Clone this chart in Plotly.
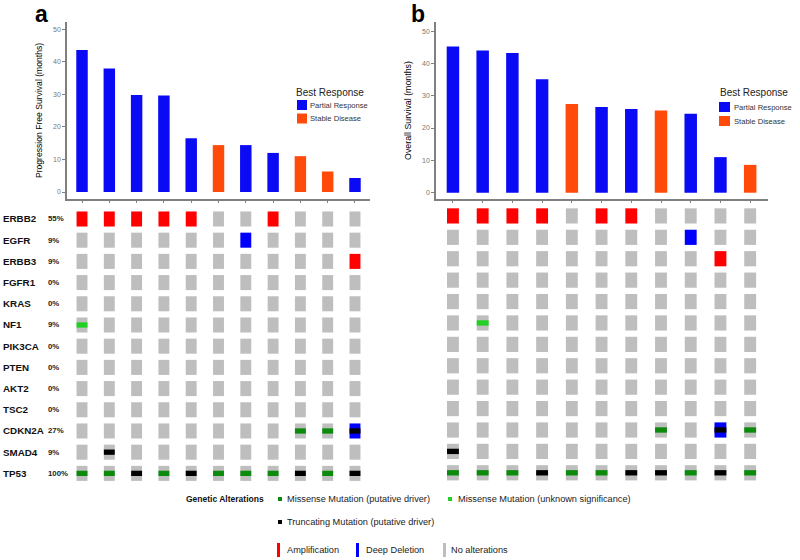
import plotly.graph_objects as go

# ---------------- data ----------------
patients = list(range(11))
pfs_values = [43.6, 37.9, 29.8, 29.6, 16.5, 14.4, 14.4, 12.0, 11.0, 6.3, 4.3]
pfs_response = ["PR", "PR", "PR", "PR", "PR", "SD", "PR", "PR", "SD", "SD", "PR"]
os_values = [45.2, 44.0, 43.2, 35.1, 27.4, 26.5, 25.9, 25.4, 24.4, 11.0, 8.6]
os_response = ["PR", "PR", "PR", "PR", "SD", "PR", "PR", "SD", "PR", "PR", "SD"]

genes = ["ERBB2", "EGFR", "ERBB3", "FGFR1", "KRAS", "NF1", "PIK3CA", "PTEN",
         "AKT2", "TSC2", "CDKN2A", "SMAD4", "TP53"]
gene_pct = ["55%", "9%", "9%", "0%", "0%", "9%", "0%", "0%", "0%", "0%", "27%", "9%", "100%"]

# codes: . none, A amplification, D deep deletion, M missense (driver),
# U missense (unknown), T truncating, X deep deletion + truncating
pfs_oncoprint = [
    "AAAAA..A...",
    "......D....",
    "..........A",
    "...........",
    "...........",
    "U..........",
    "...........",
    "...........",
    "...........",
    "...........",
    "........MMX",
    ".T.........",
    "MMTMTMMMTMT",
]
os_oncoprint = [
    "AAAA.AA....",
    "........D..",
    ".........A.",
    "...........",
    "...........",
    ".U.........",
    "...........",
    "...........",
    "...........",
    "...........",
    ".......M.XM",
    "T..........",
    "MMMTMMTTMTM",
]

# ---------------- styles ----------------
W, H = 800, 560
FONT = "Liberation Sans, Arial, sans-serif"
BLUE = "#0A0AF5"
ORANGE = "#FF4A0A"
RED = "#FF0000"
DEL = "#0000FF"
GRAY = "#BEBEBE"
DGREEN = "#0B8A0B"
LGREEN = "#22D022"
BLACK = "#000000"
AXC = "#808080"


def px(x):
    return x / W


def py(y):
    return 1 - y / H


fig = go.Figure()

# ---- survival bars ----
def add_bars(values, resp, xa, ya):
    for code, col in (("PR", BLUE), ("SD", ORANGE)):
        xs = [p for p, r in zip(patients, resp) if r == code]
        ys = [v for v, r in zip(values, resp) if r == code]
        fig.add_trace(go.Bar(x=xs, y=ys, width=0.42, marker_color=col,
                             marker_line_width=0, xaxis=xa, yaxis=ya,
                             showlegend=False))


add_bars(pfs_values, pfs_response, "x", "y")
add_bars(os_values, os_response, "x2", "y2")

# ---- oncoprint ----
CELL_H = 0.71
MUT_H = 0.25


def add_onco(grid, xa, ya):
    groups = {}
    muts = {}
    for r, row in enumerate(grid):
        for c, ch in enumerate(row):
            bg = RED if ch == "A" else DEL if ch in "DX" else GRAY
            groups.setdefault(bg, []).append((c, r))
            if ch in "MUTX":
                mc = DGREEN if ch == "M" else LGREEN if ch == "U" else BLACK
                muts.setdefault(mc, []).append((c, r))
    for col, pts in groups.items():
        fig.add_trace(go.Bar(x=[p[0] for p in pts], y=[CELL_H] * len(pts),
                             base=[p[1] - CELL_H / 2 for p in pts], width=0.4,
                             marker_color=col, marker_line_width=0,
                             xaxis=xa, yaxis=ya, showlegend=False))
    for col, pts in muts.items():
        fig.add_trace(go.Bar(x=[p[0] for p in pts], y=[MUT_H] * len(pts),
                             base=[p[1] - MUT_H / 2 for p in pts], width=0.4,
                             marker_color=col, marker_line_width=0,
                             xaxis=xa, yaxis=ya, showlegend=False))


add_onco(pfs_oncoprint, "x3", "y3")
add_onco(os_oncoprint, "x4", "y4")

# ---------------- axes ----------------
bar_y_dom = [py(199), py(22)]
onco_y_dom = [py(488), py(205)]
xa_dom = [px(67), px(370)]
xb_dom = [px(436), px(768)]
xa_rng = [-0.55, 10.55]
xb_rng = [-0.57, 10.6]

common_x = dict(showgrid=False, zeroline=False, showline=True, linecolor=AXC,
                linewidth=1.5, ticks="outside", ticklen=2, tickcolor=AXC,
                tickvals=patients, showticklabels=False)
common_y = dict(showgrid=False, zeroline=False, showline=True, linecolor=AXC,
                linewidth=1.5, ticks="outside", ticklen=3, tickcolor=AXC,
                tickvals=[0, 10, 20, 30, 40, 50],
                tickfont=dict(size=7, color="#777777", family=FONT))
hidden = dict(showgrid=False, zeroline=False, showline=False,
              showticklabels=False, ticks="")

fig.update_layout(
    width=W, height=H, margin=dict(l=0, r=0, t=0, b=0),
    paper_bgcolor="white", plot_bgcolor="white", barmode="overlay",
    font=dict(family=FONT),
    xaxis=dict(domain=xa_dom, range=xa_rng, anchor="y", **common_x),
    yaxis=dict(domain=bar_y_dom, range=[-2.15, 52.2], anchor="x",
               title=dict(text="Progression Free Survival (months)", standoff=9,
                          font=dict(size=8.6, color="#000000")),
               **common_y),
    xaxis2=dict(domain=xb_dom, range=xb_rng, anchor="y2", **common_x),
    yaxis2=dict(domain=bar_y_dom, range=[-1.95, 52.8], anchor="x2",
                title=dict(text="Overall Survival (months)", standoff=9,
                           font=dict(size=8.8, color="#000000")),
                **common_y),
    xaxis3=dict(domain=xa_dom, range=xa_rng, anchor="y3", **hidden),
    yaxis3=dict(domain=onco_y_dom, range=[12.69, -0.66], anchor="x3", **hidden),
    xaxis4=dict(domain=xb_dom, range=xb_rng, anchor="y4", **hidden),
    yaxis4=dict(domain=onco_y_dom, range=[12.71, -0.51], anchor="x4", **hidden),
)

ann = []
shapes = []

# panel letters
ann.append(dict(text="<b>a</b>", x=px(33), y=py(14), xref="paper", yref="paper",
                xanchor="left", yanchor="middle", showarrow=False,
                font=dict(size=23, color="black")))
ann.append(dict(text="<b>b</b>", x=px(409), y=py(14), xref="paper", yref="paper",
                xanchor="left", yanchor="middle", showarrow=False,
                font=dict(size=23, color="black")))

# gene labels
for i, (g, p) in enumerate(zip(genes, gene_pct)):
    ann.append(dict(text=f"<b>{g}</b>", x=px(1), y=i, xref="paper", yref="y3",
                    xanchor="left", yanchor="middle", showarrow=False,
                    font=dict(size=9.8, color="#111111")))
    ann.append(dict(text=f"<b>{p}</b>", x=px(46), y=i, xref="paper", yref="y3",
                    xanchor="left", yanchor="middle", showarrow=False,
                    font=dict(size=7.8, color="#222222")))


def rect(x0, y0, x1, y1, col):
    shapes.append(dict(type="rect", xref="paper", yref="paper", x0=px(x0),
                       x1=px(x1), y0=py(y1), y1=py(y0), fillcolor=col,
                       line=dict(width=0)))


def text(t, x, y, size, color="#222222", bold=False):
    ann.append(dict(text=f"<b>{t}</b>" if bold else t, x=px(x), y=py(y),
                    xref="paper", yref="paper", xanchor="left", yanchor="middle",
                    showarrow=False, font=dict(size=size, color=color)))


# Best Response legends
for (tx, sx0, sx1, lx, ty, y1, y2) in ((294, 297, 307, 308, 93, 105, 118.5),
                                        (718, 719, 730, 732, 93, 107, 121)):
    text("Best Response", tx, ty, 10, "#222222")
    rect(sx0, y1 - 5, sx1, y1 + 5, BLUE)
    text("Partial Response", lx, y1, 7.6, "#333333")
    rect(sx0, y2 - 5, sx1, y2 + 5, ORANGE)
    text("Stable Disease", lx, y2, 7.6, "#333333")

# Genetic alterations legend
text("Genetic Alterations", 184, 499, 8.5, "#111111", bold=True)
rect(278, 497, 282, 501, DGREEN)
text("Missense Mutation (putative driver)", 285, 499, 9.2, "#222222")
rect(448, 497, 452, 501, LGREEN)
text("Missense Mutation (unknown significance)", 456, 499, 9.2, "#222222")
rect(278, 520, 282, 524, BLACK)
text("Truncating Mutation (putative driver)", 285, 522, 9.2, "#222222")
rect(277, 543, 280, 557, RED)
text("Amplification", 285, 550, 9.2, "#222222")
rect(356, 543, 359, 557, DEL)
text("Deep Deletion", 364, 550, 9.2, "#222222")
rect(443, 543, 446, 557, GRAY)
text("No alterations", 449, 550, 9.2, "#222222")

fig.update_layout(annotations=ann, shapes=shapes)
fig.write_html("out.html", config={"displayModeBar": False},
               post_script="document.body.style.margin='0px';"
                           "document.body.style.overflow='hidden';")
